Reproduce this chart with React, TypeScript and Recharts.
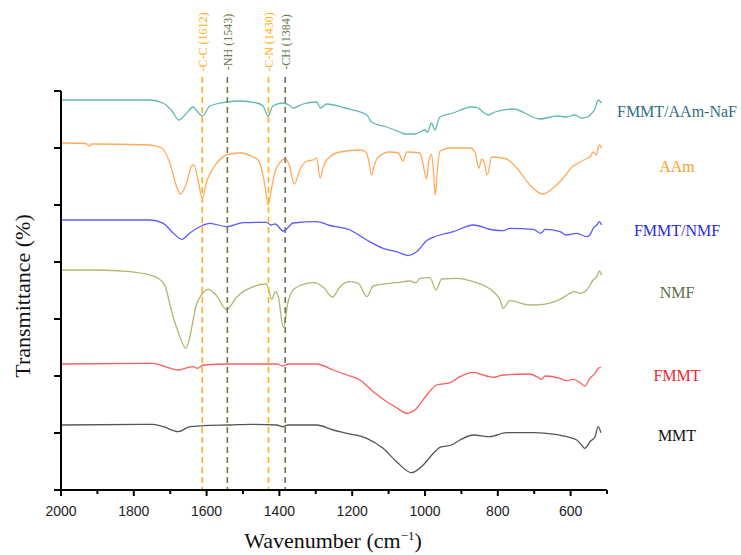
import React from 'react';
import { LineChart, Line, XAxis, YAxis, ReferenceLine } from 'recharts';

type Pt = [number, number];

// [wavenumber (cm-1), transmittance (a.u., stacked)]
const fmmtAamNaf: Pt[] = [
    [2000, 390], [1756, 390], [1720, 387], [1695, 379], [1676, 370], [1657, 376], [1637, 383], [1624, 378], [1612, 374],
    [1591, 384], [1544, 388], [1508, 389], [1462, 387], [1445, 384], [1431, 374], [1418, 384], [1390, 387], [1374, 385],
    [1363, 382], [1335, 386], [1298, 388], [1287, 382], [1270, 386], [1220, 382], [1160, 375], [1147, 368], [1105, 363],
    [1069, 358], [1055, 356], [1028, 356], [1000, 360], [993, 358], [982, 367], [973, 360], [959, 373], [923, 377],
    [872, 383], [854, 382], [844, 379], [826, 375], [808, 378], [758, 381], [684, 371], [638, 374], [611, 373],
    [588, 375], [570, 372], [552, 373], [547, 375], [533, 381], [524, 390], [515, 387],
];

const aam: Pt[] = [
    [2000, 347], [1931, 346.5], [1922, 344], [1915, 346], [1756, 345], [1723, 342], [1701, 327], [1682, 303], [1672, 296],
    [1655, 307], [1641, 324], [1635, 325], [1623, 309], [1612, 292], [1600, 308], [1572, 327], [1536, 336], [1508, 337],
    [1472, 333], [1459, 330], [1449, 321], [1440, 305], [1431, 285], [1421, 303], [1412, 318], [1403, 325], [1385, 331],
    [1374, 326], [1359, 306], [1343, 321], [1324, 329], [1307, 330], [1298, 332], [1288, 312], [1280, 322], [1270, 330],
    [1234, 338], [1179, 340], [1162, 338], [1155, 330], [1147, 315], [1139, 325], [1129, 333], [1096, 338], [1073, 337],
    [1061, 329], [1050, 338], [1014, 337], [1005, 325], [996, 311], [989, 330], [982, 335.5], [977, 320], [972, 295],
    [966, 320], [959, 339], [931, 342], [876, 342], [863, 338], [852, 322], [844, 331], [838, 328], [829, 315], [817, 333],
    [776, 331], [748, 322], [712, 305], [677, 296], [648, 302], [620, 312], [593, 324], [583, 326], [556, 331.5],
    [547, 333], [538, 338], [530, 335], [521, 345], [515, 342],
];

const fmmtNmf: Pt[] = [
    [2000, 270], [1756, 270], [1719, 266.7], [1692, 257], [1668, 250.7], [1646, 257], [1612, 264.5], [1591, 266.7],
    [1545, 263.3], [1499, 267.3], [1435, 267.7], [1424, 265], [1412, 266], [1389, 259], [1362, 267], [1298, 268.3],
    [1261, 264.5], [1206, 260], [1160, 250], [1115, 241.7], [1078, 238.3], [1047, 234.5], [1023, 238.3], [995, 249.5],
    [968, 254], [922, 258.3], [867, 265], [812, 260], [785, 259.3], [767, 261.7], [703, 260.7], [682, 256.7], [670, 260.7],
    [629, 258.3], [611, 255], [583, 256.7], [556, 253.3], [547, 255], [538, 261.7], [528, 265], [521, 268.3], [515, 265],
];

const nmf: Pt[] = [
    [2000, 220], [1902, 220], [1810, 218.3], [1756, 215], [1733, 211.7], [1714, 204], [1701, 186], [1692, 173.3],
    [1678, 158], [1657, 141.7], [1646, 153], [1637, 170], [1629, 184], [1612, 196], [1595, 200.7], [1574, 195],
    [1545, 180.5], [1517, 193], [1472, 203.3], [1435, 206], [1421, 190.7], [1411, 198.3], [1403, 193.3], [1389, 162.5],
    [1376, 188.5], [1357, 201.7], [1307, 207.3], [1279, 202.7], [1254, 193], [1234, 203], [1206, 208.3], [1183, 206.7],
    [1160, 193.3], [1142, 204], [1078, 207.3], [1041, 209], [1025, 207.3], [1014, 211.7], [986, 212.3], [970, 200],
    [954, 211], [913, 211.7], [867, 208.3], [812, 198.3], [794, 190], [785, 181.7], [767, 189.3], [712, 185], [675, 185.7],
    [629, 190.7], [588, 198.3], [574, 196.7], [552, 201.7], [538, 210], [528, 213.3], [521, 219], [515, 215],
];

const fmmt: Pt[] = [
    [2000, 126], [1746, 126.7], [1719, 124], [1678, 120], [1650, 122.7], [1637, 123.3], [1626, 121.7], [1609, 125],
    [1536, 126], [1407, 126], [1391, 124], [1376, 126], [1298, 126], [1252, 120], [1215, 115], [1179, 110], [1142, 98.3],
    [1105, 88.3], [1078, 82.3], [1050, 76.7], [1028, 80], [995, 95], [968, 105], [931, 107.3], [904, 113.3], [867, 117.7],
    [831, 114], [812, 112.7], [785, 115], [712, 116], [693, 113.3], [680, 110.7], [670, 114], [629, 111.7], [611, 109.3],
    [593, 110.7], [574, 107.3], [561, 104], [547, 111.7], [533, 116.7], [524, 121.7], [517, 122.7],
];

const mmt: Pt[] = [
    [2000, 65], [1746, 65.7], [1719, 63.3], [1678, 58.3], [1646, 63.3], [1609, 64.3], [1536, 65], [1476, 65.7], [1407, 65],
    [1391, 63.3], [1376, 65], [1298, 65], [1252, 60], [1215, 56.7], [1160, 51.7], [1115, 41.7], [1078, 28.3], [1037, 17.3],
    [1005, 25], [977, 36.7], [959, 42.7], [927, 45], [904, 50], [867, 55], [822, 53.3], [776, 57.3], [703, 57.3],
    [666, 56.7], [611, 53.3], [583, 50], [570, 45], [561, 41.7], [547, 48.3], [533, 53.3], [524, 63.3], [517, 57.3],
];

const seriesNames = ['FMMT/AAm-NaF', 'AAm', 'FMMT/NMF', 'NMF', 'FMMT', 'MMT'];
const bandPositions = [1612, 1543, 1430, 1384];
const bandLabels = ['-C-C (1612)', '-NH (1543)', '-C-N (1430)', '-CH (1384)'];
const xTicks = [2000, 1900, 1800, 1700, 1600, 1500, 1400, 1300, 1200, 1100, 1000, 900, 800, 700, 600, 500];
const yTicks = [0, 57, 114, 171, 228, 285, 342, 399];

const allSeries = [fmmtAamNaf, aam, fmmtNmf, nmf, fmmt, mmt];
const lineColors = ['#62b8b4', '#ffab5c', '#5a5aff', '#b4b46c', '#ff5c5c', '#555555'];
const labelColors = ['#2f6f7c', '#f5a02c', '#2a2ae0', '#5c6e3e', '#f02828', '#111111'];
const labelY = [112, 167, 231, 293, 376, 436];
const bandColors = ['#ffb020', '#6b7a4e', '#ffb020', '#6b7a4e'];

const serif = "'Liberation Serif', 'Times New Roman', serif";

const XTick = (props: any) => {
    const { x, y, payload } = props;
    const major = payload.value % 200 === 0;
    return (
        <g>
            <line x1={x} x2={x} y1={y} y2={y + (major ? 6 : 4)} stroke="#000" strokeWidth={2} />
            {major && (
                <text x={x} y={y + 26} textAnchor="middle" fontSize={14} fill="#222"
                    fontFamily="'Liberation Sans', Arial, sans-serif">{payload.value}</text>
            )}
        </g>
    );
};

const App: React.FC = () => {
    return (
        <div style={{ position: 'absolute', left: 0, top: 0, width: 741, height: 555, background: '#fff' }}>
            <LineChart width={741} height={555} margin={{ top: 91, right: 134, bottom: 35, left: 21 }}>
                <XAxis type="number" dataKey="w" domain={[500, 2000]} reversed allowDataOverflow
                    ticks={xTicks} interval={0} tick={<XTick />} tickLine={false} tickSize={0} tickMargin={0}
                    axisLine={{ stroke: '#000', strokeWidth: 2 }} height={30} />
                <YAxis type="number" domain={[0, 399]} ticks={yTicks} allowDataOverflow width={40}
                    tickFormatter={() => ''} tickSize={7}
                    tickLine={{ stroke: '#000', strokeWidth: 2 }} axisLine={{ stroke: '#000', strokeWidth: 2 }} />
                {allSeries.map((s, i) => (
                    <Line key={seriesNames[i]} data={s.map(([w, t]) => ({ w, t }))} dataKey="t" type="monotone"
                        stroke={lineColors[i]} strokeWidth={1.3} dot={false} isAnimationActive={false} />
                ))}
                {bandPositions.map((b, i) => (
                    <ReferenceLine key={b} segment={[{ x: b, y: 413 }, { x: b, y: 0 }]} ifOverflow="visible"
                        stroke={bandColors[i]} strokeWidth={1.6} strokeDasharray="6 4"
                        label={{
                            content: (p: any) => {
                                const vx = (p.viewBox?.x ?? 0) + 5;
                                return (
                                    <text x={vx} y={42} transform={`rotate(-90, ${vx}, 42)`} textAnchor="middle"
                                        fontSize={12} fill={bandColors[i]} fontFamily={serif}>{bandLabels[i]}</text>
                                );
                            },
                        }} />
                ))}
                <g>
                    {seriesNames.map((n, i) => (
                        <text key={n} x={677} y={labelY[i] + 5} textAnchor="middle" fontSize={16}
                            fill={labelColors[i]} fontFamily={serif}>{n}</text>
                    ))}
                    <text x={22} y={296} transform="rotate(-90, 22, 296)" textAnchor="middle" dominantBaseline="central"
                        fontSize={22} fill="#111" fontFamily={serif}>Transmittance (%)</text>
                    <text x={333} y={548} textAnchor="middle" fontSize={22} fill="#111" fontFamily={serif}>
                        Wavenumber (cm<tspan dy={-8} fontSize={13}>−1</tspan><tspan dy={8}>)</tspan>
                    </text>
                </g>
            </LineChart>
        </div>
    );
};

export default App;
